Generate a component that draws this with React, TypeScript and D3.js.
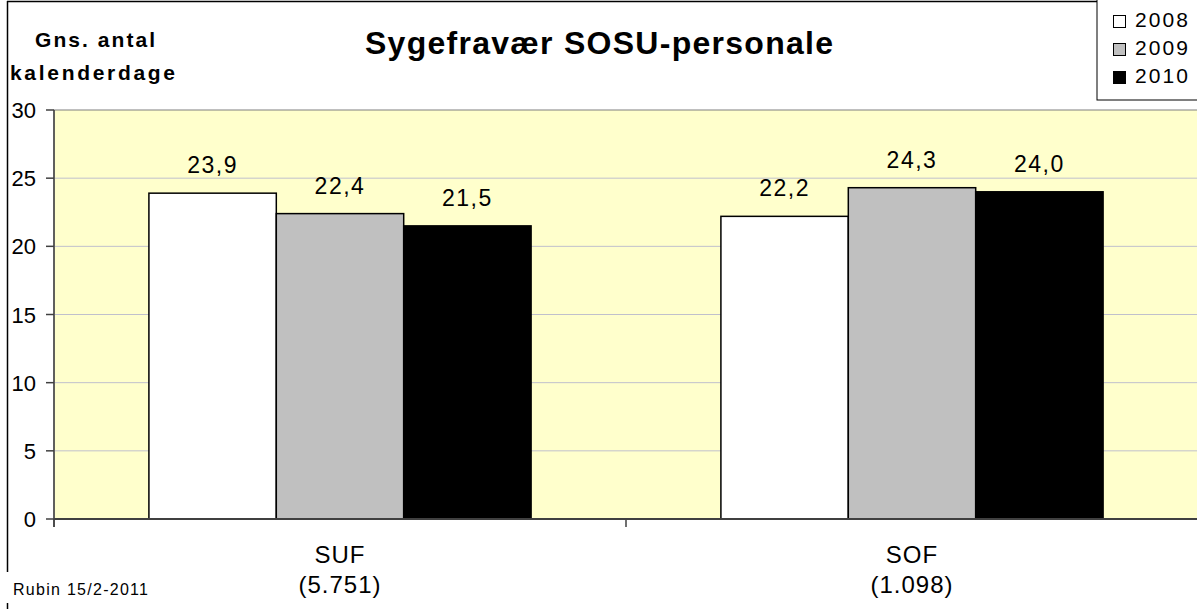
import React from "react";
import * as d3 from "d3";

const categories = ["SUF", "SOF"];
const categorySub = ["(5.751)", "(1.098)"];
const years = ["2008", "2009", "2010"];
const values2008 = [23.9, 22.2];
const values2009 = [22.4, 24.3];
const values2010 = [21.5, 24.0];
const yTicks = [0, 5, 10, 15, 20, 25, 30];
const colors = ["#ffffff", "#c0c0c0", "#000000"];

const W = 1197;
const H = 609;
const plot = { left: 54, right: 1198, top: 110, bottom: 519 };
const font = "'Liberation Sans', Arial, sans-serif";

export default function App() {
  const series = [values2008, values2009, values2010];
  const x0 = d3.scaleBand<string>().domain(categories).range([plot.left, plot.right]).paddingInner(0).paddingOuter(0);
  const x1 = d3.scaleBand<string>().domain(years).range([0, x0.bandwidth()]).paddingInner(0).paddingOuter(0.745);
  const y = d3.scaleLinear().domain([0, 30]).range([plot.bottom, plot.top]);
  const fmt = (v: number) => v.toFixed(1).replace(".", ",");

  return (
    <div style={{ position: "absolute", left: 0, top: 0 }}>
      <svg width={W} height={H} style={{ display: "block" }} fontFamily={font}>
        <rect x={0} y={0} width={W} height={H} fill="#ffffff" />
        {/* outer frame */}
        <line x1={7.5} y1={1} x2={7.5} y2={572} stroke="#000" strokeWidth={1.5} />
        <line x1={7} y1={1.5} x2={W} y2={1.5} stroke="#000" strokeWidth={1.5} />
        <line x1={7.5} y1={603} x2={7.5} y2={609} stroke="#000" strokeWidth={1.5} />
        {/* plot area */}
        <rect x={plot.left} y={plot.top} width={plot.right - plot.left} height={plot.bottom - plot.top} fill="#ffffcc" stroke="#808080" strokeWidth={1} />
        {yTicks.filter((t) => t > 0 && t < 30).map((t) => (
          <line key={t} x1={plot.left} x2={plot.right} y1={y(t)} y2={y(t)} stroke="#c0c0cc" strokeWidth={1} />
        ))}
        {/* bars */}
        {categories.map((c, ci) =>
          years.map((yr, si) => {
            const v = series[si][ci];
            const bx = (x0(c) as number) + (x1(yr) as number);
            const bw = x1.bandwidth();
            return (
              <g key={c + yr}>
                <rect x={bx} y={y(v)} width={bw} height={y(0) - y(v)} fill={colors[si]} stroke="#000" strokeWidth={1.5} />
                <text x={bx + bw / 2} y={y(v) - 20} textAnchor="middle" fontSize={23} letterSpacing={1.5} fill="#000">{fmt(v)}</text>
              </g>
            );
          })
        )}
        {/* axes */}
        <line x1={plot.left} x2={plot.left} y1={plot.top} y2={plot.bottom + 8} stroke="#404040" strokeWidth={1.5} />
        <line x1={plot.left} x2={plot.right} y1={plot.bottom} y2={plot.bottom} stroke="#404040" strokeWidth={2} />
        {yTicks.map((t) => (
          <g key={t}>
            <line x1={plot.left - 8} x2={plot.left} y1={y(t)} y2={y(t)} stroke="#404040" strokeWidth={1.5} />
            <text x={36} y={y(t) + 8} textAnchor="end" fontSize={22} fill="#000">{t}</text>
          </g>
        ))}
        {[...categories.map((c) => x0(c) as number), plot.right].map((xv, i) => (
          <line key={i} x1={xv} x2={xv} y1={plot.bottom} y2={plot.bottom + 8} stroke="#404040" strokeWidth={1.5} />
        ))}
        {categories.map((c, i) => {
          const cx = (x0(c) as number) + x0.bandwidth() / 2;
          return (
            <g key={c}>
              <text x={cx} y={563} textAnchor="middle" fontSize={24} letterSpacing={1} fill="#000">{c}</text>
              <text x={cx} y={593} textAnchor="middle" fontSize={24} letterSpacing={1} fill="#000">{categorySub[i]}</text>
            </g>
          );
        })}
        {/* titles */}
        <text x={599} y={54} textAnchor="middle" fontSize={32} fontWeight="bold" fill="#000" textLength={468} lengthAdjust="spacing">Sygefravær SOSU-personale</text>
        <text x={95} y={47} textAnchor="middle" fontSize={21} fontWeight="bold" fill="#000" textLength={120} lengthAdjust="spacing">Gns. antal</text>
        <text x={92.5} y={80} textAnchor="middle" fontSize={21} fontWeight="bold" fill="#000" textLength={165} lengthAdjust="spacing">kalenderdage</text>
        <text x={13} y={595} fontSize={16} fill="#000" textLength={135} lengthAdjust="spacing">Rubin 15/2-2011</text>
        {/* legend */}
        <rect x={1097} y={-1} width={102} height={101} fill="#ffffff" stroke="#000" strokeWidth={1} />
        {years.map((yr, i) => (
          <g key={yr}>
            <rect x={1113.5} y={15.5 + i * 28} width={12} height={12} fill={colors[i]} stroke="#000" strokeWidth={1} />
            <text x={1135} y={27 + i * 28} fontSize={21} fill="#000" textLength={53} lengthAdjust="spacing">{yr}</text>
          </g>
        ))}
      </svg>
    </div>
  );
}
